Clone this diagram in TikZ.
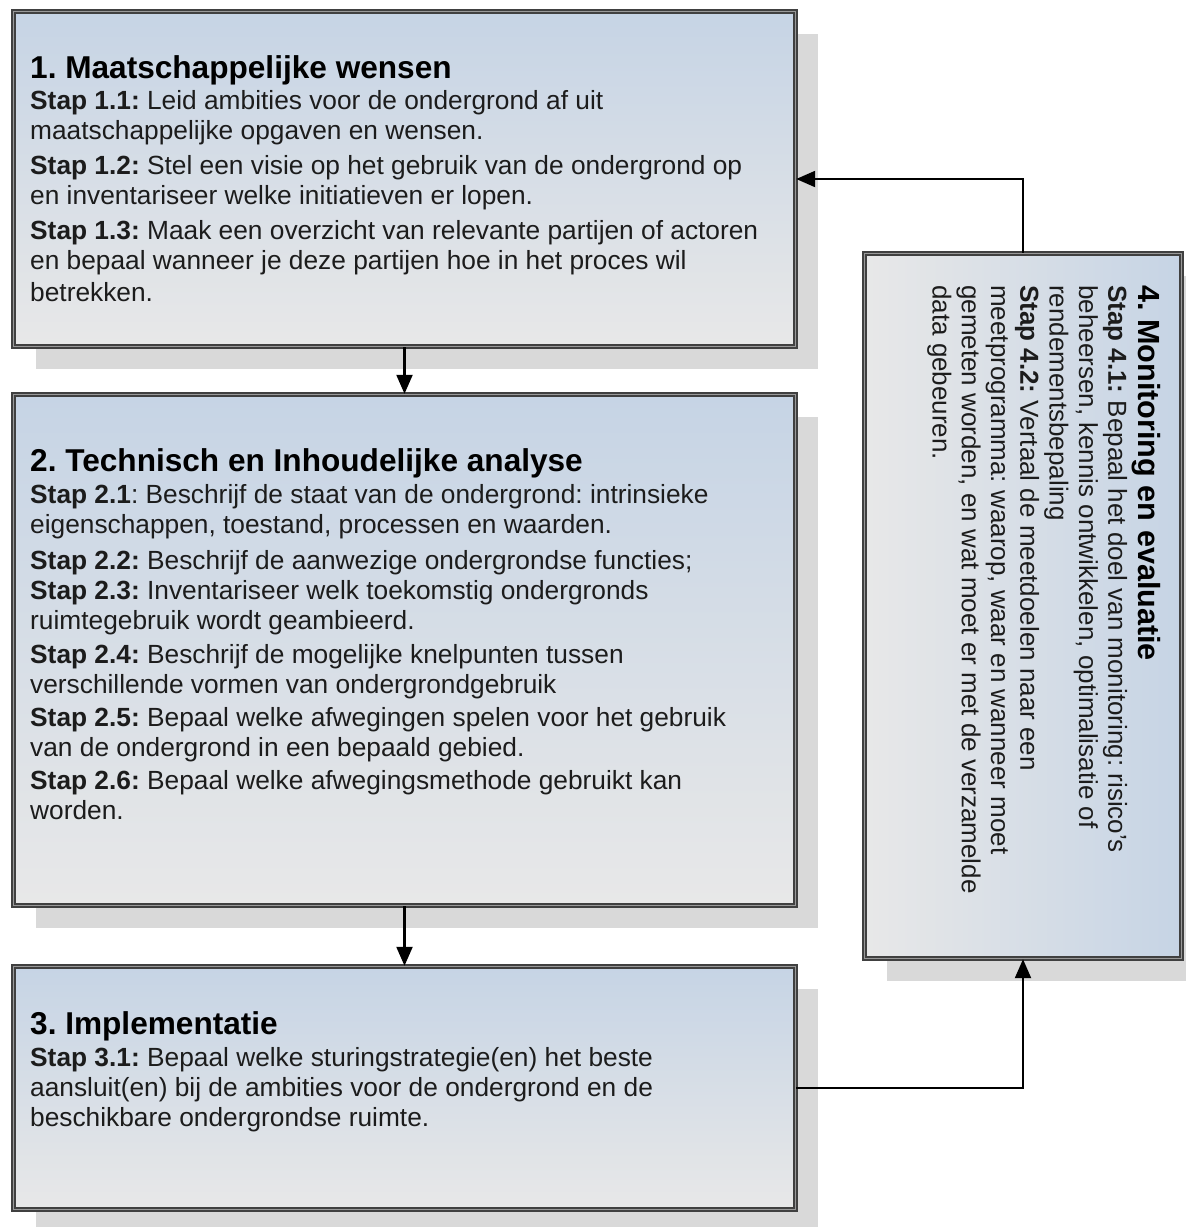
\documentclass[tikz,border=0pt]{standalone}
\usepackage{fontspec}
\setmainfont{Liberation Sans}
\usetikzlibrary{arrows.meta,shadows}
\definecolor{boxblue}{RGB}{198,212,229}
\definecolor{boxgray}{RGB}{232,232,232}
\definecolor{shadowc}{RGB}{217,217,217}
\definecolor{txt}{RGB}{28,28,28}
\newcommand{\ttlfont}{\fontsize{31.6}{34}\selectfont\bfseries\color{black}}
\newcommand{\stp}[1]{\textbf{#1}}
\frenchspacing
\begin{document}
\begin{tikzpicture}[x=1pt,y=-1pt,
  box/.style={rectangle, draw=black!75, double=black!40, double distance=1.8pt, line width=1.4pt,
    drop shadow={shadow xshift=22pt, shadow yshift=-22pt, fill=shadowc, opacity=1, draw=none},
    inner sep=0pt},
  vbox/.style={box, top color=boxblue, bottom color=boxgray},
  hbox/.style={box, left color=boxgray, right color=boxblue},
  txtnode/.style={anchor=north west, inner sep=0pt, align=left, text=txt,
    font=\fontsize{26.3}{30}\selectfont},
  arr/.style={line width=2.2pt, draw=black, -{Triangle[length=19pt,width=16pt]}}
]
\useasboundingbox (0,0) rectangle (1186,1227);
\clip (0,0) rectangle (1186,1227);

\node[vbox, minimum width=782pt, minimum height=335pt] (b1) at (404.5,179) {};
\node[vbox, minimum width=782pt, minimum height=511pt] (b2) at (404.5,650) {};
\node[vbox, minimum width=782pt, minimum height=243pt] (b3) at (404.5,1088) {};
\node[hbox, minimum width=317pt, minimum height=705pt] (b4) at (1023,606) {};

\node[txtnode] (t1) at (30,55) {%
{\ttlfont 1. Maatschappelijke wensen}\\[1pt]
\stp{Stap 1.1:} Leid ambities voor de ondergrond af uit\\
maatschappelijke opgaven en wensen.\\[5pt]
\stp{Stap 1.2:} Stel een visie op het gebruik van de ondergrond op\\
en inventariseer welke initiatieven er lopen.\\[5pt]
\stp{Stap 1.3:} Maak een overzicht van relevante partijen of actoren\\
en bepaal wanneer je deze partijen hoe in het proces wil\\[2pt]
betrekken.};

\node[txtnode] (t2) at (30,448) {%
{\ttlfont 2. Technisch en Inhoudelijke analyse}\\[2pt]
\stp{Stap 2.1}: Beschrijf de staat van de ondergrond: intrinsieke\\
eigenschappen, toestand, processen en waarden.\\[6pt]
\stp{Stap 2.2:} Beschrijf de aanwezige ondergrondse functies;\\
\stp{Stap 2.3:} Inventariseer welk toekomstig ondergronds\\
ruimtegebruik wordt geambieerd.\\[4pt]
\stp{Stap 2.4:} Beschrijf de mogelijke knelpunten tussen\\
verschillende vormen van ondergrondgebruik\\[3pt]
\stp{Stap 2.5:} Bepaal welke afwegingen spelen voor het gebruik\\
van de ondergrond in een bepaald gebied.\\[3pt]
\stp{Stap 2.6:} Bepaal welke afwegingsmethode gebruikt kan\\
worden.};

\node[txtnode] (t3) at (30,1011) {%
{\ttlfont 3. Implementatie}\\[2pt]
\stp{Stap 3.1:} Bepaal welke sturingstrategie(en) het beste\\
aansluit(en) bij de ambities voor de ondergrond en de\\
beschikbare ondergrondse ruimte.};

\node[txtnode, rotate=-90, font=\fontsize{26}{29.3}\selectfont] (t4) at (1161,285) {%
{\fontsize{30.6}{34}\selectfont\bfseries\color{black} 4. Monitoring en evaluatie}\\[1pt]
\stp{Stap 4.1:} Bepaal het doel van monitoring: risico's\\
beheersen, kennis ontwikkelen, optimalisatie of\\
rendementsbepaling\\
\stp{Stap 4.2:} Vertaal de meetdoelen naar een\\
meetprogramma: waarop, waar en wanneer moet\\
gemeten worden, en wat moet er met de verzamelde\\
data gebeuren.};

\draw[arr] (b1.south) -- (b2.north);
\draw[arr] (b2.south) -- (b3.north);
\draw[arr] (b3.east) -| (b4.south);
\draw[arr] (b4.north) |- (b1.east);
\end{tikzpicture}
\end{document}
